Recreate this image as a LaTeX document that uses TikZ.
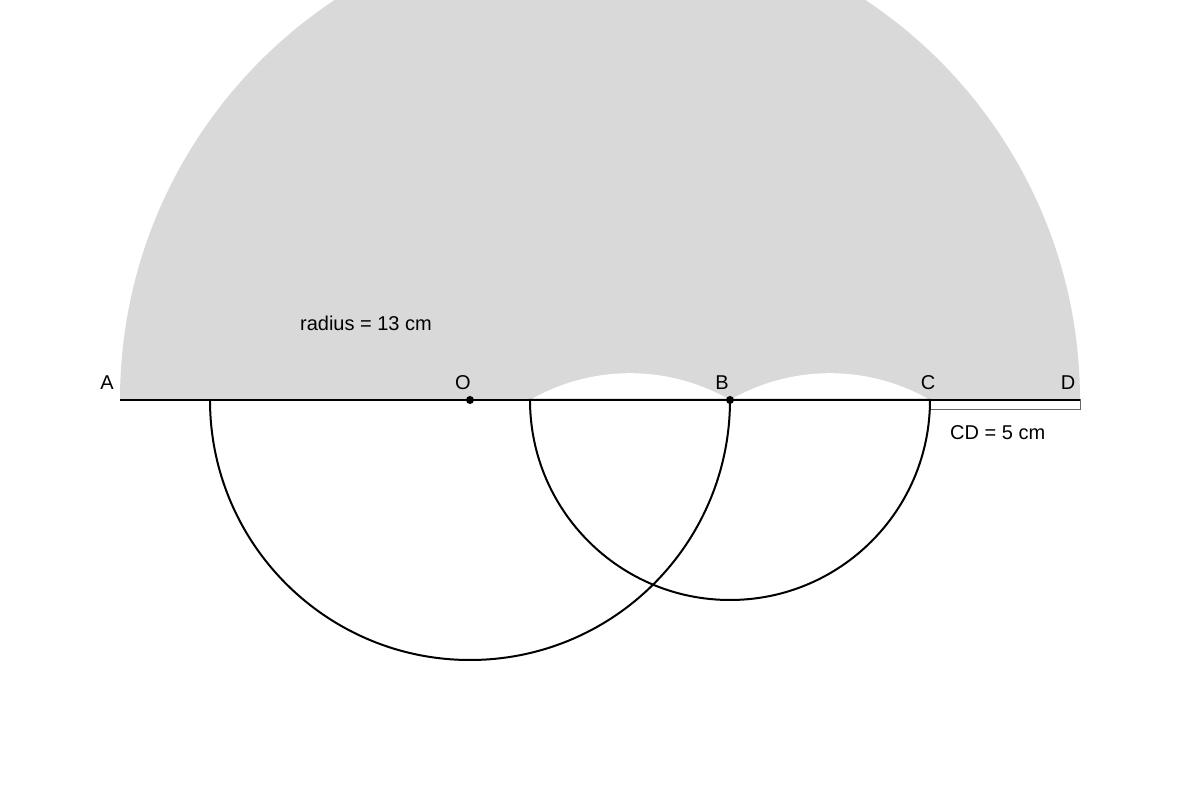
\documentclass[tikz,border=0pt]{standalone}
\usepackage{fontspec}
\setmainfont{Liberation Sans}
\definecolor{fillgray}{HTML}{D9D9D9}
\definecolor{stripedge}{HTML}{666666}
\begin{document}
\begin{tikzpicture}[x=1pt,y=1pt,
  lbl/.style={font=\fontsize{20}{24}\selectfont, inner sep=0pt, text=black},
  arcline/.style={draw=black, line width=2pt},
  dotpt/.style={circle, fill=black, inner sep=0pt, minimum size=8pt}]
\useasboundingbox (0,0) rectangle (1200,800);
\clip (0,0) rectangle (1200,800);
\coordinate (A) at (120,400);
\coordinate (Ol) at (210,400);
\coordinate (O) at (470,400);
\coordinate (L) at (530,400);
\coordinate (B) at (730,400);
\coordinate (C) at (930,400);
\coordinate (D) at (1080,400);
% big shaded semicircle
\fill[fillgray] (A) arc[start angle=180, end angle=0, radius=480] -- cycle;
% white lens cut-outs
\fill[white] (L) arc[start angle=120, end angle=60, radius=200] -- cycle;
\fill[white] (B) arc[start angle=120, end angle=60, radius=200] -- cycle;
% strip CD
\draw[stripedge, fill=white, line width=1pt] (C) rectangle ([yshift=-10pt]D);
% base line
\draw[black, line width=1.2pt] (A) -- (D);
% lower semicircles
\draw[arcline] (Ol) arc[start angle=180, end angle=360, radius=260];
\draw[arcline] (L) arc[start angle=180, end angle=360, radius=200] -- cycle;
% points
\node[dotpt] (Odot) at (O) {};
\node[dotpt] (Bdot) at (B) {};
% labels
\node[lbl] (tA) at (107,417) {A};
\node[lbl] (tO) at (463,417) {O};
\node[lbl] (tB) at (722,417) {B};
\node[lbl] (tC) at (928,417) {C};
\node[lbl] (tD) at (1068,417) {D};
\node[lbl] (trad) at (366,477) {radius = 13 cm};
\node[lbl, anchor=west] (tcd) at (950,367) {CD = 5 cm};
\end{tikzpicture}
\end{document}
